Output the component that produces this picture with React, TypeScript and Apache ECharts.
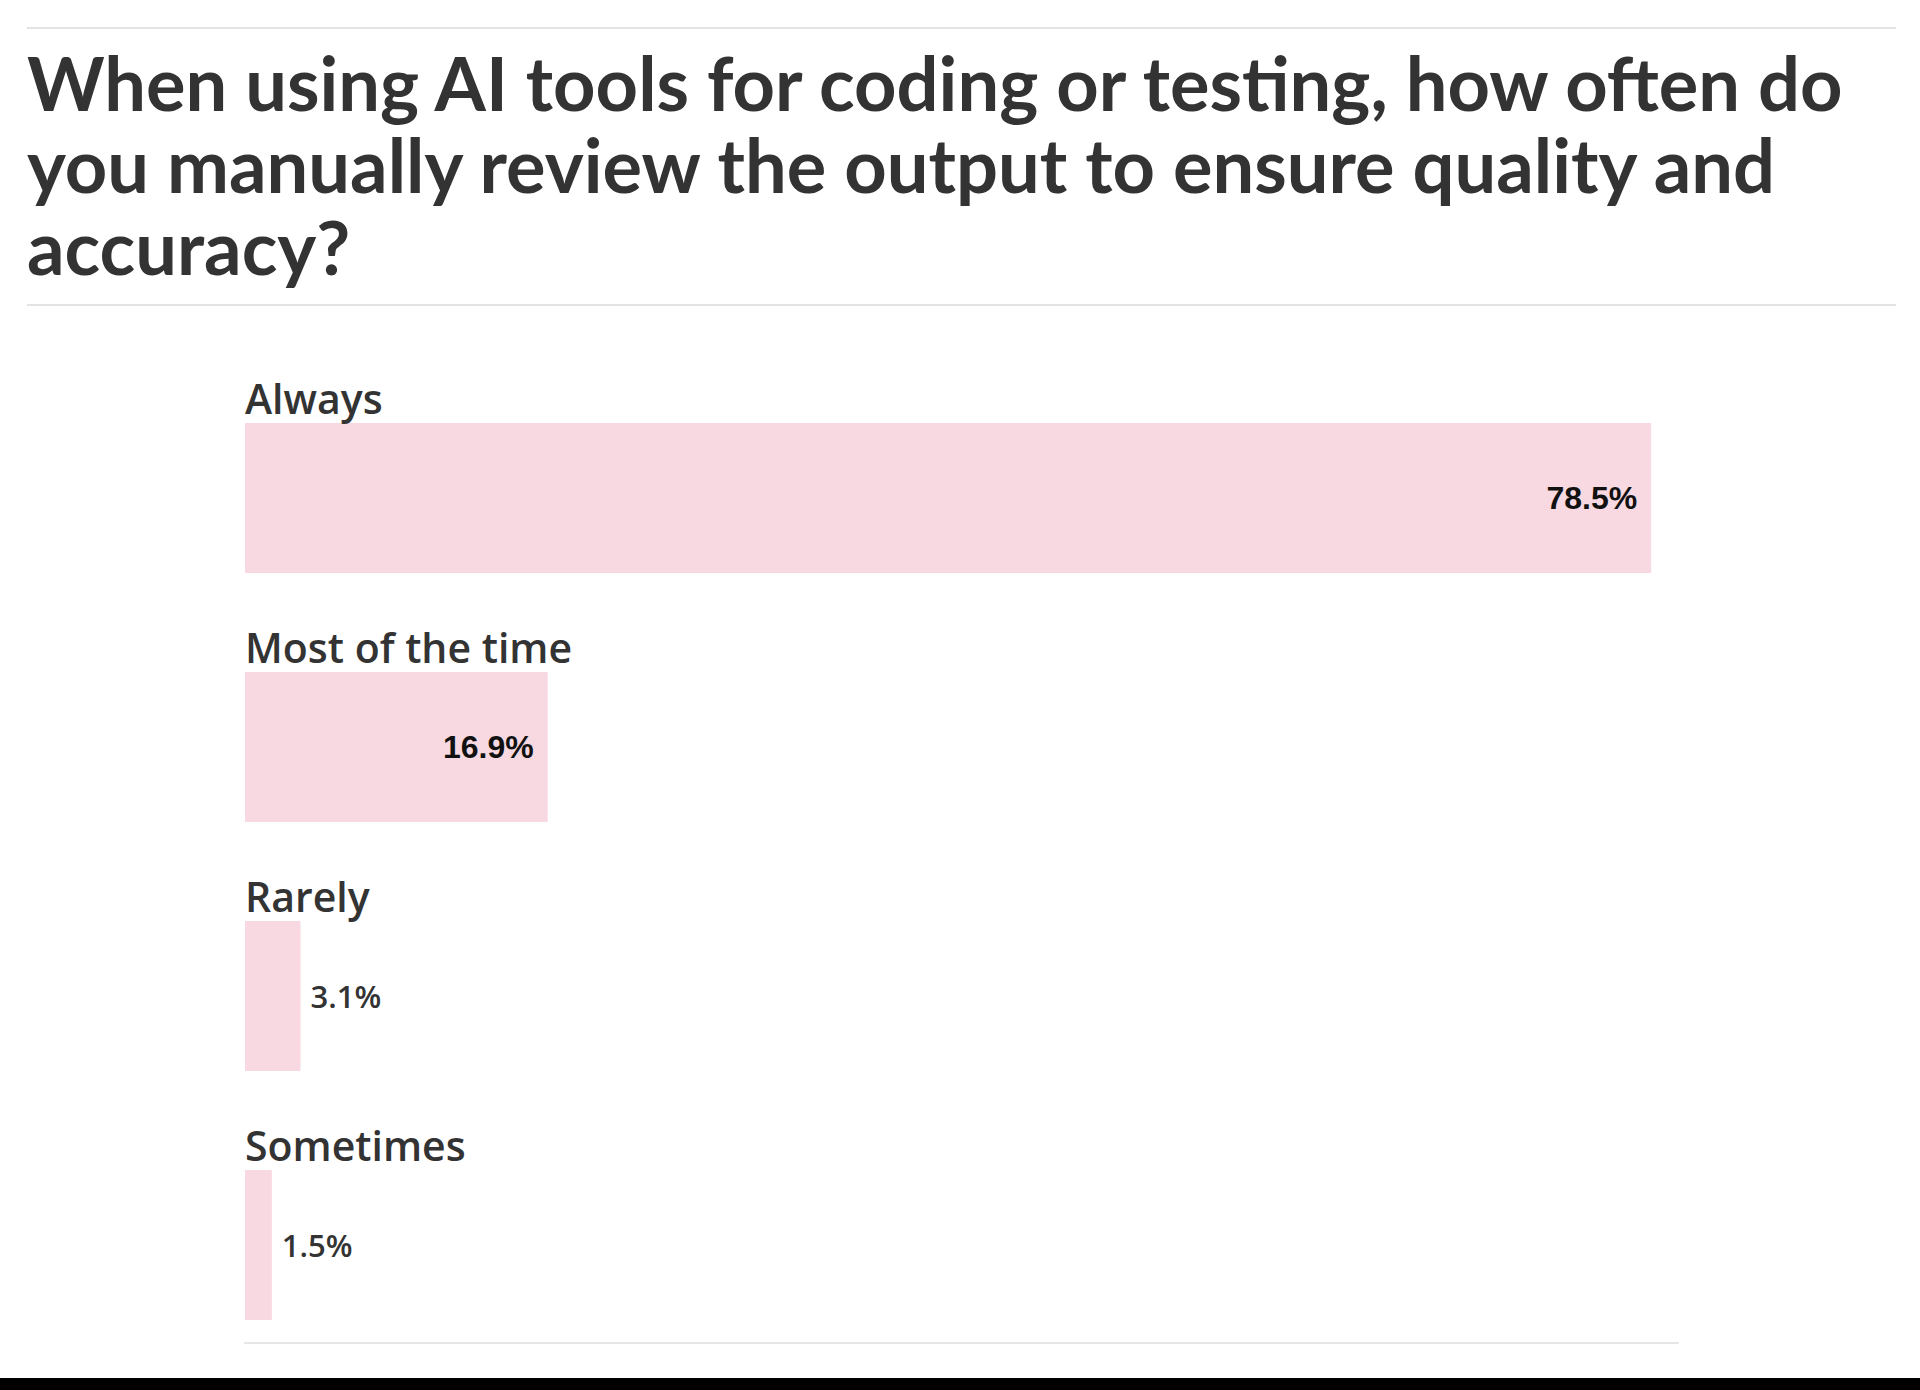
import React, { useEffect, useRef } from "react";
import * as echarts from "echarts";

const categories = ["Always", "Most of the time", "Rarely", "Sometimes"];
const values = [78.5, 16.9, 3.1, 1.5];
const titleLines = [
  "When using AI tools for coding or testing, how often do",
  "you manually review the output to ensure quality and",
  "accuracy?",
];
const axisMin = 0;
const axisMax = 80;
const insideThreshold = 10;

export default function App() {
  const ref = useRef<HTMLDivElement>(null);

  useEffect(() => {
    const chart = echarts.init(ref.current!, null, { renderer: "svg" });

    const valueData = values.map((v) => {
      const inside = v >= insideThreshold;
      return {
        value: v,
        label: inside
          ? {
              show: true,
              position: "insideRight",
              distance: 14,
              fontFamily: "Liberation Sans, Arial, sans-serif",
              fontWeight: "bold",
              fontSize: 32,
              color: "#111111",
            }
          : {
              show: true,
              position: "right",
              distance: 10,
              fontFamily: "Open Sans, sans-serif",
              fontWeight: 600,
              fontSize: 31,
              color: "#333333",
            },
      };
    });

    const option = {
      animation: false,
      backgroundColor: "#ffffff",
      title: {
        text: titleLines.join("\n"),
        left: 22,
        top: 36,
        textStyle: {
          fontFamily: "Lato, sans-serif",
          fontWeight: "bold",
          fontSize: 74,
          lineHeight: 82,
          color: "#333333",
        },
      },
      grid: { left: 245, right: 242, top: 373.5, bottom: 20.5, containLabel: false },
      xAxis: {
        type: "value",
        min: axisMin,
        max: axisMax,
        offset: -26.5,
        axisLine: { show: true, lineStyle: { color: "#e6e6e6", width: 2 } },
        axisTick: { show: false },
        axisLabel: { show: false },
        splitLine: { show: false },
      },
      yAxis: {
        type: "category",
        data: categories,
        inverse: true,
        axisLine: { show: false },
        axisTick: { show: false },
        axisLabel: { show: false },
        splitLine: { show: false },
      },
      series: [
        {
          type: "bar",
          data: valueData,
          barWidth: 150,
          itemStyle: { color: "#f8d9e2" },
          label: {
            formatter: (p: any) => `${p.value}%`,
          },
          silent: true,
        },
        {
          type: "bar",
          data: values,
          barWidth: 150,
          barGap: "-100%",
          itemStyle: { color: "rgba(0,0,0,0)" },
          silent: true,
          label: {
            show: true,
            position: [0, -5],
            align: "left",
            verticalAlign: "bottom",
            formatter: (p: any) => categories[p.dataIndex],
            fontFamily: "Open Sans, sans-serif",
            fontWeight: 600,
            fontSize: 41,
            color: "#333333",
          },
        },
      ],
      graphic: [
        {
          type: "line",
          shape: { x1: 27, y1: 28, x2: 1896, y2: 28 },
          style: { stroke: "#e3e3e3", lineWidth: 2 },
        },
        {
          type: "line",
          shape: { x1: 27, y1: 305, x2: 1896, y2: 305 },
          style: { stroke: "#e3e3e3", lineWidth: 2 },
        },
        {
          type: "rect",
          shape: { x: 0, y: 1378, width: 1920, height: 12 },
          style: { fill: "#000000" },
        },
      ],
    };

    chart.setOption(option as any);
    return () => chart.dispose();
  }, []);

  return (
    <div
      ref={ref}
      style={{ position: "fixed", left: 0, top: 0, width: 1920, height: 1390 }}
    />
  );
}
